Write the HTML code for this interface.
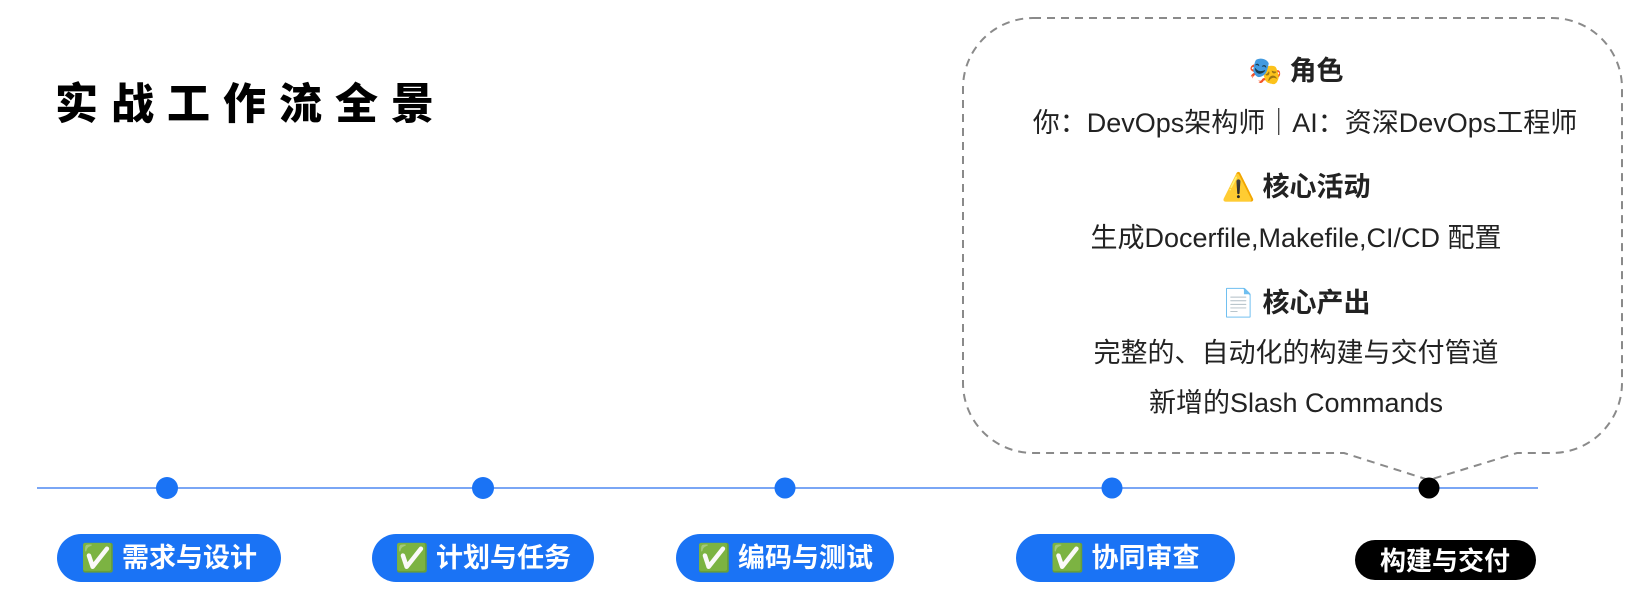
<!DOCTYPE html>
<html><head><meta charset="utf-8"><style>
html,body{margin:0;padding:0;background:#fff;}
svg{display:block;}
text{font-family:"Liberation Sans","Noto Sans CJK SC",sans-serif;}
</style></head><body>
<svg width="1651" height="616" viewBox="0 0 1651 616" xmlns="http://www.w3.org/2000/svg">
<text x="55" y="119" font-size="43" font-weight="900" letter-spacing="13" fill="#000">实战工作流全景</text>
<path d="M1033,18 H1552 A70,70 0 0 1 1622,88 V383 A70,70 0 0 1 1552,453 H1517 L1429,480 L1344,453 H1033 A70,70 0 0 1 963,383 V88 A70,70 0 0 1 1033,18 Z" fill="none" stroke="#8a8a8a" stroke-width="2" stroke-dasharray="8,6"/>
<g text-anchor="middle" fill="#222">
<text x="1296" y="80" font-size="27" font-weight="bold">🎭 角色</text>
<text x="1305" y="132" font-size="27">你：DevOps架构师｜AI：资深DevOps工程师</text>
<text x="1296" y="196" font-size="27" font-weight="bold">⚠️ 核心活动</text>
<text x="1296" y="247" font-size="27">生成Docerfile,Makefile,CI/CD 配置</text>
<text x="1296" y="312" font-size="27" font-weight="bold">📄 核心产出</text>
<text x="1296" y="362" font-size="27">完整的、自动化的构建与交付管道</text>
<text x="1296" y="412" font-size="27">新增的Slash Commands</text>
</g>
<line x1="37" y1="488" x2="1538" y2="488" stroke="#7aa6f5" stroke-width="2"/>
<circle cx="167" cy="488" r="11" fill="#1a73f5"/>
<circle cx="483" cy="488" r="11" fill="#1a73f5"/>
<circle cx="785" cy="488" r="10.5" fill="#1a73f5"/>
<circle cx="1112" cy="488" r="10.5" fill="#1a73f5"/>
<circle cx="1429" cy="488" r="10.5" fill="#000"/>
<g font-size="27" font-weight="bold" fill="#fff" text-anchor="middle">
<rect x="57" y="534" width="224" height="48" rx="24" fill="#1a73f5"/>
<text x="169" y="567">✅ 需求与设计</text>
<rect x="372" y="534" width="222" height="48" rx="24" fill="#1a73f5"/>
<text x="483" y="567">✅ 计划与任务</text>
<rect x="676" y="534" width="218" height="48" rx="24" fill="#1a73f5"/>
<text x="785" y="567">✅ 编码与测试</text>
<rect x="1016" y="534" width="219" height="48" rx="24" fill="#1a73f5"/>
<text x="1125" y="567">✅ 协同审查</text>
<rect x="1355" y="540" width="181" height="40" rx="20" fill="#000"/>
<text x="1445" y="570" font-size="26">构建与交付</text>
</g>
</svg>
</body></html>
